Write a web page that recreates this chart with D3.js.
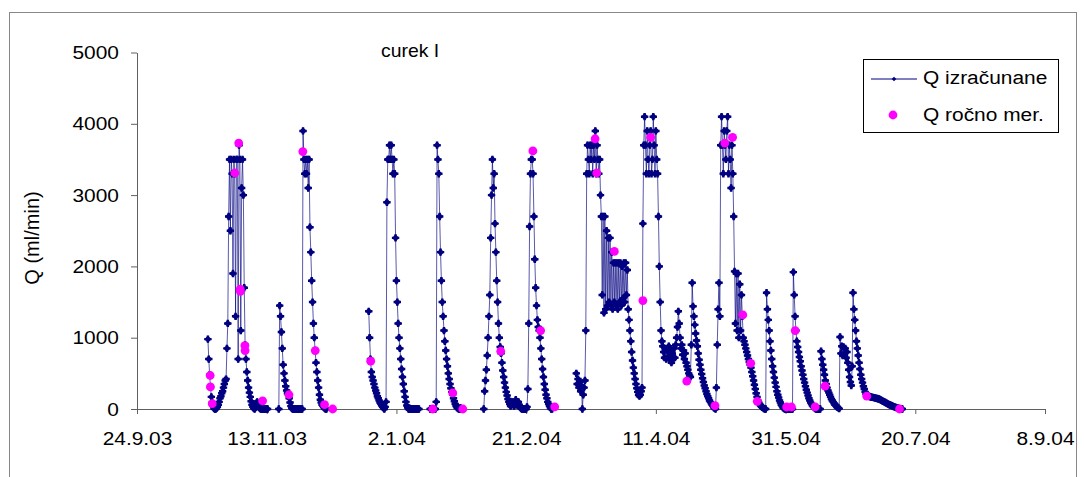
<!DOCTYPE html>
<html>
<head>
<meta charset="utf-8">
<script src="https://cdn.jsdelivr.net/npm/d3@7"></script>
<style>
  body { margin: 0; background: #fff; }
  svg text { font-family: "Liberation Sans", Arial, sans-serif; fill: #000; }
</style>
</head>
<body>
<svg id="chart" width="1084" height="477"></svg>
<script>
// 1) Data: logger readings every 8 h (ml/min), one array per run of readings
const STEP_H = 8;
const runStarts = ["2003-10-21 08:00", "2003-11-17 16:00", "2003-12-22 08:00", "2004-01-15 00:00",
                   "2004-02-04 16:00", "2004-03-11 08:00", "2004-05-04 08:00", "2004-05-23 16:00"];

const qOct = [980,700,480,310,170,90,40,10,0,0,10,30,60,100,150,180,220,250,300,350,400,420,850,1200,
  2700,3500,2500,3500,3300,1900,3500,3300,1300,3500,3500,700,3700,3500,1100,3100,3500,3000,1700,900,
  700,520,400,300,230,170,110,60,30,10,0,20,80,100,60,30,10,0,0,0,0,0,0,0,0,0];
const qNov = [0,1450,1300,1080,850,620,500,400,320,260,220,200,150,90,40,10,0,0,0,0,0,0,0,0,0,0,0,0,
  3900,3500,3300,3500,3300,3500,3100,3500,2550,2200,1800,1500,1200,1000,820,650,520,400,300,200,130,
  90,60,40,25,10,0,0];
const qDec = [1370,1000,700,520,450,400,350,300,260,220,180,150,120,90,70,50,30,15,0,30,100,2900,3500,
  3500,3700,3500,3700,3500,3300,3500,3300,2400,1800,1500,1200,1000,850,700,560,450,350,250,170,100,50,
  20,0,0,0,0,0,0,0,0,0,0,0,0,0];
const qJan = [0,0,0,0,0,0,0,100,3700,3500,3300,2700,2200,1800,1500,1300,1100,950,820,700,600,500,420,
  350,290,240,200,150,110,70,40,20,10,0,0,20,0,0];
const qFeb = [0,250,400,550,750,1000,1300,1600,2400,3000,3500,3100,3300,2600,2200,1800,1500,1200,1000,
  870,780,650,540,450,370,300,240,190,140,100,70,40,60,100,70,40,60,130,90,50,100,60,30,10,0,0,0,0,0,
  0,30,280,1200,2560,3300,3500,3500,3300,2700,2100,1700,1450,1250,1150,1100,1000,850,700,560,450,350,
  270,200,150,100,70,40,20,0,0];
const qMar = [500,350,420,300,380,250,320,0,200,300,400,1100,
  3300,3700,3500,3300,3700,3500,3700,3300,3700,3500,3900,3300,3700,3500,3300,3500,3000,
  2700,1600,2700,1350,2700,1400,2500,1450,2400,1500,2400,1450,2200,1400,2050,1500,2050,1450,2050,1400,
  2050,1500,2050,1450,2000,1550,2050,1500,2050,1600,1950,
  1400,1250,1100,950,800,680,580,500,420,350,290,240,200,180,200,250,300,
  2600,3700,4100,3700,3300,3900,3500,3300,3700,3900,3300,3500,4100,3700,3300,3900,3500,3300,
  2700,2000,1500,1100,950,880,800,720,850,700,820,720,880,700,800,650,780,700,850,720,900,1000,1150,
  1370,1200,1000,850,900,760,820,700,780,650,600,550,500,470,450,900,
  1770,1440,1300,1180,1060,960,880,780,690,620,550,490,430,380,330,290,250,210,180,150,120,100,80,60,
  40,20,10,0];
const qMay = [300,900,1400,1770,1300,
  3700,4100,3700,3300,3900,3700,3500,3900,4100,3300,3700,3500,3100,3700,3300,
  2700,1930,1200,1900,1100,1900,1000,1750,1100,1600,1300,
  1000,950,900,850,800,750,700,660,620,580,520,460,400,340,280,220,170,120,90,70,50,35,25,15,5,0,0];
const qJun = [1630,1400,1250,1100,950,820,700,600,520,440,370,310,250,200,160,120,90,60,40,20,10,0,0,
  0,0,0,0,0,0,0,0,
  1920,1600,1300,1100,950,870,800,730,670,600,540,480,420,370,320,270,230,190,150,120,90,70,50,35,20,10,0,
  0,0,0,0,0,
  810,700,620,550,480,400,350,300,260,230,200,170,140,120,100,80,60,50,35,25,15,5,
  1010,780,880,750,870,760,850,720,800,650,550,450,380,330,600,
  1630,1400,1250,1100,950,850,750,650,560,480,420,370,320,280,240,210,
  195,185,180,176,170,168,164,162,160,155,153,150,147,143,140,134,126,120,112,107,100,94,86,80,72,67,
  60,56,50,45,40,34,30,24,20,15,10,7,5,2,0,0];
const runs = [qOct, qNov, qDec, qJan, qFeb, qMar, qMay, qJun];

// manual measurements (Q ročno mer.)
const manDates = ["2003-10-22 05:00","2003-10-22 07:00","2003-10-23 00:00","2003-10-31 17:00","2003-11-02 05:00",
  "2003-11-02 19:00","2003-11-02 20:00","2003-11-04 14:00","2003-11-04 16:00","2003-11-11 10:00",
  "2003-11-21 14:00","2003-11-26 22:00","2003-12-01 17:00","2003-12-05 07:00","2003-12-08 10:00",
  "2003-12-23 02:00","2004-01-16 00:00","2004-01-23 17:00","2004-01-27 14:00","2004-02-11 05:00",
  "2004-02-23 14:00","2004-02-26 14:00","2004-03-03 00:00","2004-03-18 14:00","2004-03-19 05:00",
  "2004-03-26 00:00","2004-04-06 00:00","2004-04-09 00:00","2004-04-22 22:00","2004-05-03 19:00",
  "2004-05-07 14:00","2004-05-10 14:00","2004-05-14 12:00","2004-05-17 14:00","2004-05-20 02:00",
  "2004-05-31 10:00","2004-06-02 07:00","2004-06-03 17:00","2004-06-11 10:00","2004-06-15 05:00",
  "2004-07-01 07:00","2004-07-13 22:00"];
const manQ = [470,310,75,3310,3730,1680,1650,890,820,115,200,3610,820,60,0,670,0,225,0,810,
  3620,1100,30,3790,3310,2210,1520,3810,390,46,3730,3810,1320,640,107,28,28,1100,30,320,180,0];

const xTickDates = ["2003-09-24","2003-11-13","2004-01-02","2004-02-21","2004-04-11","2004-05-31","2004-07-20","2004-09-08"];
const yTicks = [0,1000,2000,3000,4000,5000];

// 2) Build points, break the line where readings are missing
const parse = d3.utcParse("%Y-%m-%d %H:%M");
const parseDay = d3.utcParse("%Y-%m-%d");
const segments = [];
let prev = null;
runs.forEach((arr, i) => {
  const t0 = parse(runStarts[i]);
  arr.forEach((q, k) => {
    const t = d3.utcHour.offset(t0, k * STEP_H);
    if (!prev || (t - prev) > STEP_H * 1.5 * 3600e3) segments.push([]);
    segments[segments.length - 1].push({t, q});
    prev = t;
  });
});
const allPts = segments.flat();
const manual = manDates.map((d, i) => ({t: parse(d), q: manQ[i]}));

// 3) Chart
const svg = d3.select('#chart');
const FS = 19, SX = 1.1;
const stretch = sel => sel.each(function(){
  const t = d3.select(this); const x0 = +t.attr('x') || 0;
  t.attr('x', 0).attr('transform', `translate(${x0},0) scale(${SX},1)`);
});

// outer frame
svg.append('rect').attr('x', 9.5).attr('y', 12.5).attr('width', 1067).attr('height', 480)
  .attr('fill', 'none').attr('stroke', '#888');

const x = d3.scaleUtc().domain([parseDay(xTickDates[0]), parseDay(xTickDates[xTickDates.length-1])]).range([137, 1045]);
const y = d3.scaleLinear().domain([0, 5000]).range([409, 52.5]);

const gx = svg.append('g').attr('transform', 'translate(0,409)')
  .call(d3.axisBottom(x).tickValues(xTickDates.map(parseDay)).tickFormat(d3.utcFormat('%-d.%-m.%y'))
    .tickSizeInner(5).tickSizeOuter(0).tickPadding(18));
const gy = svg.append('g').attr('transform', 'translate(137,0)')
  .call(d3.axisLeft(y).tickValues(yTicks).tickFormat(d3.format('d'))
    .tickSizeInner(6).tickSizeOuter(0).tickPadding(12));
[gx, gy].forEach(g => {
  g.attr('font-size', FS).attr('font-family', null);
  g.selectAll('path,line').attr('stroke', '#606060');
  g.selectAll('text').call(stretch);
});

// series: Q izračunane (thin line + small diamond with a bar, like the Excel marker)
const line = d3.line().x(d => x(d.t)).y(d => y(d.q));
svg.append('g').selectAll('path').data(segments).enter().append('path')
  .attr('d', line).attr('fill', 'none').attr('stroke', '#000080').attr('stroke-width', 1).attr('stroke-opacity', 0.65);
const diamond = d3.symbol().type(d3.symbolDiamond2).size(34);
const bar = d3.symbol().type(d3.symbolCross).size(30);
const mk = svg.append('g').selectAll('g').data(allPts).enter().append('g')
  .attr('transform', d => `translate(${x(d.t)},${y(d.q)})`).attr('fill', '#000080');
mk.append('path').attr('d', diamond);
mk.append('path').attr('d', bar);

// series: Q ročno mer.
svg.append('g').selectAll('circle').data(manual).enter().append('circle')
  .attr('cx', d => x(d.t)).attr('cy', d => y(d.q)).attr('r', 4.4).attr('fill', '#ff00ff');

// title + y label
svg.append('g').attr('transform', 'translate(381,57)').append('text')
  .attr('font-size', FS).text('curek I').attr('transform', 'scale(1.02,1)');
svg.append('text').attr('transform', 'translate(39,238) rotate(-90)').attr('text-anchor', 'middle')
  .attr('font-size', 20).text('Q (ml/min)');

// legend
const lg = svg.append('g');
lg.append('rect').attr('x', 863.5).attr('y', 59.5).attr('width', 195).attr('height', 73)
  .attr('fill', '#fff').attr('stroke', '#000');
lg.append('line').attr('x1', 871).attr('x2', 917).attr('y1', 79).attr('y2', 79).attr('stroke', '#000080');
lg.append('path').attr('d', d3.symbol().type(d3.symbolDiamond2).size(14)).attr('transform', 'translate(894,79)')
  .attr('fill', '#000080');
lg.append('circle').attr('cx', 893).attr('cy', 115).attr('r', 4.4).attr('fill', '#ff00ff');
lg.append('text').attr('x', 923).attr('y', 84.5).attr('font-size', FS).text('Q izračunane').call(stretch);
lg.append('text').attr('x', 923).attr('y', 121).attr('font-size', FS).text('Q ročno mer.').call(stretch);
</script>
</body>
</html>
